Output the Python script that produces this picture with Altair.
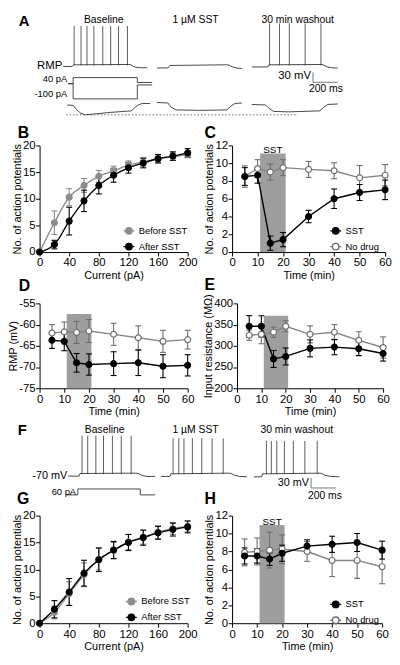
import altair as alt
import pandas as pd

FONT = "Liberation Sans"
BLACK = "#000000"
GRAY = "#8c8c8c"
OPEN_STROKE = "#6e6e6e"
OPEN_LINE = "#858585"
SHADE = "#9e9e9e"
TRACE = "#333333"

# ---------------- F-I curves (B, G) ----------------
CURRENT_PA = [0, 20, 40, 60, 80, 100, 120, 140, 160, 180, 200]
B_BEFORE_MEAN = [0, 5.5, 10.3, 12.5, 14.2, 15.2, 16.3, 16.9, 17.5, 17.9, 18.3]
B_BEFORE_SEM = [0, 2.2, 1.6, 1.3, 1.1, 0.9, 0.8, 0.8, 0.7, 0.7, 0.6]
B_AFTER_MEAN = [0, 1.4, 5.8, 9.6, 12.5, 14.4, 15.8, 16.7, 17.5, 18.0, 18.6]
B_AFTER_SEM = [0, 0.8, 2.6, 2.0, 1.6, 1.3, 1.0, 0.9, 0.8, 0.8, 0.8]

G_BEFORE_MEAN = [0, 2.0, 5.5, 9.0, 11.9, 13.5, 15.1, 16.0, 16.9, 17.6, 18.0]
G_BEFORE_SEM = [0, 1.2, 2.2, 2.2, 2.0, 1.5, 1.4, 1.3, 1.2, 1.1, 1.0]
G_AFTER_MEAN = [0, 2.6, 5.8, 9.3, 11.8, 13.6, 15.0, 15.9, 16.8, 17.4, 17.9]
G_AFTER_SEM = [0, 1.6, 2.5, 2.4, 2.2, 1.6, 1.5, 1.4, 1.2, 1.2, 1.1]

# ---------------- time courses (C, D, E, H) ----------------
TIME_MIN = [5, 10, 15, 20, 30, 40, 50, 60]
SST_WINDOW = [11, 21]

C_SST_MEAN = [8.5, 8.65, 1.0, 1.4, 4.0, 6.0, 6.7, 7.0]
C_SST_SEM = [1.0, 0.9, 0.8, 0.8, 0.7, 1.1, 0.9, 1.1]
C_NODRUG_MEAN = [8.5, 9.4, 9.0, 9.5, 9.3, 9.15, 8.35, 8.65]
C_NODRUG_SEM = [1.2, 1.0, 0.9, 0.9, 0.9, 0.9, 1.4, 1.2]

D_SST_MEAN = [-63.7, -63.95, -69.0, -69.4, -69.2, -69.0, -69.8, -69.6]
D_SST_SEM = [1.9, 2.2, 2.2, 2.5, 2.8, 3.0, 2.7, 2.5]
D_NODRUG_MEAN = [-62.0, -61.7, -61.85, -61.5, -62.3, -63.1, -63.95, -63.55]
D_NODRUG_SEM = [2.0, 2.3, 2.6, 2.7, 2.6, 2.8, 2.6, 2.2]

E_SST_MEAN = [346, 346, 269, 275, 294, 297, 293, 282]
E_SST_SEM = [25, 25, 20, 20, 20, 18, 16, 18]
E_NODRUG_MEAN = [325, 327, 332, 346, 327, 332, 313, 296]
E_NODRUG_SEM = [12, 22, 12, 13, 20, 18, 20, 25]

H_SST_MEAN = [7.5, 7.5, 7.15, 7.8, 8.6, 8.8, 9.0, 8.15]
H_SST_SEM = [0.9, 0.8, 0.7, 0.9, 0.7, 0.9, 1.0, 1.0]
H_NODRUG_MEAN = [7.9, 8.0, 8.15, 8.25, 8.0, 7.0, 7.0, 6.3]
H_NODRUG_SEM = [1.5, 1.5, 2.0, 1.6, 1.1, 1.8, 2.0, 1.9]

# ---------------- traces, panel A (time in ms, voltage in mV, current in pA) ----------------
TR_X = [240, 1440]          # 150-px cell, traces continue to the right
A_V_DOM = [-149, 100]
A_H_DOM = [-35, 214]
A_I_DOM = [-68.5, 471]

A_BASE_T = [432, 504, 516, 960, 976, 992, 1016, 1056, 1112]
A_BASE_V = [-65, -65, -60, -59, -59, -63, -67, -69, -69]
A_BASE_SPIKES = [520, 576, 624, 680, 752, 816, 880, 952]
A_SST_T = [1192, 1280, 1296, 1760, 1776, 1800, 1840, 1880]
A_SST_V = [-69.5, -69.5, -62, -60, -61, -66, -70, -71]
A_WASH_T = [1960, 2088, 2100, 2528, 2544, 2568, 2608, 2656]
A_WASH_V = [-66.5, -66.5, -60, -59, -61, -66, -69, -70]
A_WASH_SPIKES = [2104, 2184, 2264, 2392, 2520]

A_HYP1_T = [464, 512, 536, 568, 608, 696, 816, 984, 1008, 1040, 1072, 1136]
A_HYP1_V = [-68, -69.5, -80, -92, -98, -95, -90.5, -86, -77, -68, -63.5, -63.5]
A_HYP2_T = [1192, 1280, 1304, 1344, 1536, 1760, 1792, 1824, 1880]
A_HYP2_V = [-60.5, -62, -74, -83, -84.5, -83, -71, -63.5, -62]
A_HYP3_T = [1960, 2072, 2096, 2136, 2256, 2512, 2544, 2576, 2656]
A_HYP3_V = [-66.5, -68, -77, -87.5, -89, -86, -74, -66.5, -65]
A_DOT_T = [456, 2336]
A_DOT_V = [-98, -98]

A_I40_T = [472, 512, 512, 1032, 1032, 1152]
A_I40 = [0, 0, 40, 40, 8, 8]
A_I100_T = [472, 512, 512, 1032, 1032, 1152]
A_I100 = [0, 0, -100, -100, -8, -8]

A_BAR_T = [2456, 2456, 2656]
A_BAR_V = [-83, -113, -113]

# ---------------- traces, panel F ----------------
F_V_DOM = [-34, 41]
F_I_DOM = [310, 560]
F_BASE_T = [472, 560, 568, 1030, 1046, 1070, 1110, 1176]
F_BASE_V = [-70, -70, -62, -61, -63, -68, -71, -71]
F_BASE_SPIKES = [584, 630, 696, 758, 830, 902, 982]
F_SST_T = [1224, 1296, 1304, 1776, 1792, 1816, 1860, 1920]
F_SST_V = [-71, -71, -63, -61, -62, -67, -71, -72]
F_SST_SPIKES = [1322, 1368, 1410, 1478, 1554, 1638, 1728]
F_WASH_T = [1976, 2040, 2048, 2510, 2526, 2550, 2600, 2670]
F_WASH_V = [-72, -72, -63, -61, -62, -67, -71, -72]
F_WASH_SPIKES = [2078, 2118, 2162, 2224, 2296, 2390, 2490]
F_I_T = [456, 550, 550, 1056, 1056, 1176]
F_I = [0, 0, 60, 60, 0, 0]
F_BAR_T = [2440, 2440, 2640]
F_BAR_V = [-76, -106, -106]

LEG_PATH = "M-1,0L-0.6,0M0.6,0L1,0M0.6,0A0.6,0.6,0,1,1,-0.6,0A0.6,0.6,0,1,1,0.6,0Z"

STYLE = {
    "Before SST": dict(line=GRAY, fill=GRAY, stroke=GRAY),
    "After SST": dict(line=BLACK, fill=BLACK, stroke=BLACK),
    "SST": dict(line=BLACK, fill=BLACK, stroke=BLACK),
    "No drug": dict(line=OPEN_LINE, fill="#ffffff", stroke=OPEN_STROKE),
}


def xy_panel(letter, xs, series, legend_order, xdom, xticks, ydom, yticks,
             xtitle, ytitle, width, height, smooth=False, shade_top=None,
             sst_y=None, legend_xy=None, letter_xy=(-22, -8), ytitle_x=-17,
             x_range=None, y_offset=0):
    rows = []
    for name, means, sems in series:
        for xv, m, s in zip(xs, means, sems):
            rows.append({"series": name, "x": xv, "m": m, "lo": m - s,
                         "hi": m + s, "s": s})
    df = pd.DataFrame(rows)
    if x_range is not None:
        xscale = alt.Scale(domain=xdom, nice=False, zero=False, range=x_range)
    else:
        xscale = alt.Scale(domain=xdom, nice=False, zero=False)
    yscale = alt.Scale(domain=ydom, nice=False, zero=False)
    xaxis = alt.Axis(values=xticks, title=xtitle, titleY=17.5)
    yaxis = alt.Axis(values=yticks, title=ytitle, titleX=ytitle_x,
                     titleY=height / 2, offset=y_offset,
                     labelExpr="replace(datum.label, '\u2212', '-')")

    def X(f):
        return alt.X(f"{f}:Q", scale=xscale, axis=xaxis)

    def Y(f):
        return alt.Y(f"{f}:Q", scale=yscale, axis=yaxis)

    layers = []
    if shade_top is not None:
        sh = pd.DataFrame({"x": [SST_WINDOW[0]], "x2": [SST_WINDOW[1]],
                           "m": [ydom[0]], "m2": [shade_top]})
        layers.append(alt.Chart(sh).mark_rect(color=SHADE).encode(
            x=X("x"), x2="x2:Q", y=Y("m"), y2="m2:Q"))
        if sst_y is not None:
            tx = pd.DataFrame({"x": [sum(SST_WINDOW) / 2], "m": [sst_y],
                               "label": ["SST"]})
            layers.append(alt.Chart(tx).mark_text(
                baseline="alphabetic", fontSize=10, font=FONT, color="black"
            ).encode(x=X("x"), y=Y("m"), text="label:N"))
    for name, _, _ in series:
        st = STYLE[name]
        base = alt.Chart(df).transform_filter(alt.datum.series == name)
        layers.append(base.mark_line(
            color=st["line"], strokeWidth=1.4,
            interpolate="monotone" if smooth else "linear"
        ).encode(x=X("x"), y=Y("m")))
        eb = base.transform_filter(alt.datum.s > 0)
        layers.append(eb.mark_rule(color=st["stroke"], strokeWidth=1.1).encode(
            x=X("x"), y=Y("lo"), y2="hi:Q"))
        for f in ("lo", "hi"):
            layers.append(eb.mark_tick(orient="horizontal", size=6, thickness=1.1,
                                       color=st["stroke"], opacity=1).encode(
                x=X("x"), y=Y(f)))
    if legend_xy is not None:
        leg = alt.Legend(title=None, orient="none", legendX=legend_xy[0],
                         legendY=legend_xy[1], symbolType=LEG_PATH,
                         symbolSize=121, symbolStrokeWidth=1.3, labelFontSize=9.5,
                         labelFont=FONT, labelColor="black", labelOffset=3.5,
                         rowPadding=3, padding=0)
    else:
        leg = None
    layers.append(alt.Chart(df).mark_point(
        shape="circle", size=36, opacity=1, strokeWidth=1.2
    ).encode(
        x=X("x"), y=Y("m"),
        fill=alt.Fill("series:N", scale=alt.Scale(
            domain=legend_order, range=[STYLE[n]["fill"] for n in legend_order]),
            legend=leg),
        stroke=alt.Stroke("series:N", scale=alt.Scale(
            domain=legend_order, range=[STYLE[n]["stroke"] for n in legend_order]),
            legend=leg),
    ))
    # panel letter
    layers.append(alt.Chart(pd.DataFrame({"label": [letter]})).mark_text(
        align="left", baseline="alphabetic", fontSize=16, fontWeight="bold",
        font=FONT, color="black").encode(
        x=alt.value(letter_xy[0]), y=alt.value(letter_xy[1]), text="label:N"))
    return alt.layer(*layers).properties(width=width, height=height)


def tr_x():
    return alt.X("t:Q", scale=alt.Scale(domain=TR_X, nice=False, zero=False), axis=None)


def tr_y(dom):
    return alt.Y("v:Q", scale=alt.Scale(domain=dom, nice=False, zero=False), axis=None)


def line_layer(sweeps, dom, color=TRACE, width=0.9, dash=None):
    rows = []
    for k, (ts, vs) in enumerate(sweeps):
        for i, (t, v) in enumerate(zip(ts, vs)):
            rows.append({"sweep": k, "i": i, "t": t, "v": v})
    kw = dict(color=color, strokeWidth=width)
    if dash:
        kw["strokeDash"] = dash
    return alt.Chart(pd.DataFrame(rows)).mark_line(**kw).encode(
        x=tr_x(), y=tr_y(dom), detail="sweep:N", order="i:Q")


def spike_layer(spike_sets, dom):
    rows = []
    for times, foot, peak in spike_sets:
        for t in times:
            rows.append({"t": t, "v": foot, "v2": peak})
    return alt.Chart(pd.DataFrame(rows)).mark_rule(color=TRACE, strokeWidth=0.8).encode(
        x=tr_x(), y=tr_y(dom), y2="v2:Q")


def text_layer(items, dom, align, size, weight="normal", baseline="middle"):
    df = pd.DataFrame(items, columns=["label", "t", "v"])
    return alt.Chart(df).mark_text(
        align=align, baseline=baseline, fontSize=size, fontWeight=weight,
        font=FONT, color="black").encode(x=tr_x(), y=tr_y(dom), text="label:N")


def spacer(width, height):
    return alt.Chart(pd.DataFrame({"t": [0]})).mark_point(opacity=0, size=1).encode(
        x=alt.value(width / 2), y=alt.value(height / 2)).properties(
        width=width, height=height)


A_TITLES = [("Baseline", 760, 76), ("1 \u00b5M SST", 1504, 76), ("30 min washout", 2332, 76)]
F_TITLES = [("Baseline", 768, 71), ("1 \u00b5M SST", 1504, 71), ("30 min washout", 2324, 71)]

panel_a = alt.layer(
    line_layer([(A_BASE_T, A_BASE_V), (A_SST_T, A_SST_V), (A_WASH_T, A_WASH_V)], A_V_DOM),
    spike_layer([(A_BASE_SPIKES, -62, 58), (A_WASH_SPIKES, -62, 66)], A_V_DOM),
    line_layer([(A_HYP1_T, A_HYP1_V), (A_HYP2_T, A_HYP2_V), (A_HYP3_T, A_HYP3_V)], A_H_DOM),
    line_layer([(A_DOT_T, A_DOT_V)], A_H_DOM, color="#555555", dash=[1.5, 2]),
    line_layer([(A_I40_T, A_I40), (A_I100_T, A_I100)], A_I_DOM),
    line_layer([(A_BAR_T, A_BAR_V)], A_V_DOM, color="#666666"),
    text_layer([("A", 72, 56.5)], A_V_DOM, "left", 15, "bold", "alphabetic"),
    text_layer(A_TITLES, A_V_DOM, "center", 10.5),
    text_layer([("RMP", 424, -65), ("30 mV", 2440, -95)], A_V_DOM, "right", 11.5),
    text_layer([("200 ms", 2560, -134)], A_V_DOM, "center", 10.5),
    text_layer([("40 pA", 464, 29), ("-100 pA", 464, -65)], A_I_DOM, "right", 9.5),
).resolve_scale(y="independent").properties(width=150, height=83)

panel_f = alt.layer(
    line_layer([(F_BASE_T, F_BASE_V), (F_SST_T, F_SST_V), (F_WASH_T, F_WASH_V)], F_V_DOM),
    spike_layer([(F_BASE_SPIKES, -64, 53), (F_SST_SPIKES, -64, 45),
                 (F_WASH_SPIKES, -64, 37)], F_V_DOM),
    line_layer([(F_I_T, F_I)], F_I_DOM),
    line_layer([(F_BAR_T, F_BAR_V)], F_V_DOM, color="#666666"),
    text_layer([("F", 64, 54)], F_V_DOM, "left", 15, "bold", "alphabetic"),
    text_layer(F_TITLES, F_V_DOM, "center", 10.5),
    text_layer([("-70 mV", 464, -70), ("30 mV", 2424, -91)], F_V_DOM, "right", 11),
    text_layer([("200 ms", 2552, -130)], F_V_DOM, "center", 10.5),
    text_layer([("60 pA", 536, 25)], F_I_DOM, "right", 9.5),
).resolve_scale(y="independent").properties(width=150, height=25)

TIME_TICKS = [0, 10, 20, 30, 40, 50, 60]
CUR_TICKS = [0, 40, 80, 120, 160, 200]

panel_b = xy_panel("B", CURRENT_PA,
                   [("Before SST", B_BEFORE_MEAN, B_BEFORE_SEM),
                    ("After SST", B_AFTER_MEAN, B_AFTER_SEM)],
                   ["Before SST", "After SST"], [0, 200], CUR_TICKS, [0, 20],
                   [0, 5, 10, 15, 20], "Current (pA)", "No. of action potentials",
                   150, 108, smooth=True, legend_xy=(84, 80),
                   letter_xy=(-22, -8), ytitle_x=-17)
panel_c = xy_panel("C", TIME_MIN,
                   [("No drug", C_NODRUG_MEAN, C_NODRUG_SEM),
                    ("SST", C_SST_MEAN, C_SST_SEM)],
                   ["SST", "No drug"], [0, 60], TIME_TICKS, [0, 12],
                   [0, 2, 4, 6, 8, 10, 12], "Time (min)", "No. of action potentials",
                   155, 108, shade_top=11.1, sst_y=11.15, legend_xy=(98.5, 80),
                   letter_xy=(-28, -8), ytitle_x=-18)
panel_d = xy_panel("D", TIME_MIN,
                   [("No drug", D_NODRUG_MEAN, D_NODRUG_SEM),
                    ("SST", D_SST_MEAN, D_SST_SEM)],
                   ["SST", "No drug"], [0, 60], TIME_TICKS, [-75, -55],
                   [-75, -70, -65, -60, -55], "Time (min)", "RMP (mV)",
                   150, 86, shade_top=-57.5, letter_xy=(-21, -13), ytitle_x=-21)
panel_e = xy_panel("E", TIME_MIN,
                   [("No drug", E_NODRUG_MEAN, E_NODRUG_SEM),
                    ("SST", E_SST_MEAN, E_SST_SEM)],
                   ["SST", "No drug"], [0, 60], TIME_TICKS, [200, 400],
                   [200, 250, 300, 350, 400], "Time (min)",
                   "Input resistance (M\u03a9)", 155, 86, shade_top=371,
                   letter_xy=(-28, -14), ytitle_x=-24, x_range=[5, 153],
                   y_offset=-5)
panel_g = xy_panel("G", CURRENT_PA,
                   [("Before SST", G_BEFORE_MEAN, G_BEFORE_SEM),
                    ("After SST", G_AFTER_MEAN, G_AFTER_SEM)],
                   ["Before SST", "After SST"], [0, 200], CUR_TICKS, [0, 20],
                   [0, 5, 10, 15, 20], "Current (pA)", "No. of action potentials",
                   150, 109, smooth=True, legend_xy=(86.5, 80.5),
                   letter_xy=(-23, -12), ytitle_x=-17)
panel_h = xy_panel("H", TIME_MIN,
                   [("No drug", H_NODRUG_MEAN, H_NODRUG_SEM),
                    ("SST", H_SST_MEAN, H_SST_SEM)],
                   ["SST", "No drug"], [0, 60], TIME_TICKS, [0, 12],
                   [0, 2, 4, 6, 8, 10, 12], "Time (min)", "No. of action potentials",
                   152, 109, shade_top=10.95, sst_y=11.0, legend_xy=(98.5, 83.5),
                   letter_xy=(-28, -12), ytitle_x=-18)

chart = alt.concat(
    panel_a, spacer(155, 83),
    panel_b, panel_c,
    panel_d, panel_e,
    panel_f, spacer(155, 25),
    panel_g, panel_h,
    columns=2, spacing={"row": 52, "column": 45}, bounds="flush",
).resolve_scale(fill="independent", stroke="independent").resolve_legend(
    fill="independent", stroke="independent").properties(padding=0)

chart = chart.configure_view(stroke=None).configure_axis(
    domainColor="black", tickColor="black", labelColor="black", titleColor="black",
    domainWidth=1, tickWidth=1, tickSize=4, labelFont=FONT, titleFont=FONT,
    labelFontSize=11.5, titleFontSize=11, titleFontWeight="normal", grid=False,
    labelOverlap=False, labelFlush=False,
).configure_axisX(labelPadding=1).configure_axisY(labelPadding=0.5)

chart.save("out.html", embed_options={"renderer": "svg", "actions": False})
